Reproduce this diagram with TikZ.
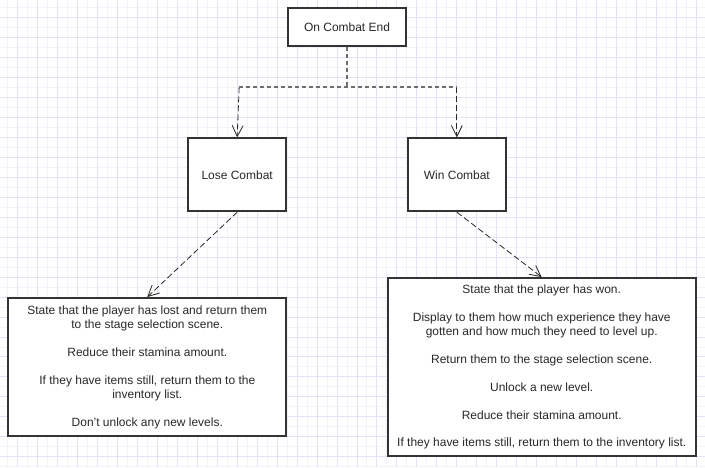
\documentclass[tikz,border=0pt]{standalone}
\usepackage{fontspec}
\setmainfont{Liberation Sans}
\usetikzlibrary{arrows.meta, positioning}

\definecolor{gridmajor}{RGB}{228,226,246}
\definecolor{gridminor}{RGB}{243,242,250}
\definecolor{boxline}{RGB}{51,51,51}
\definecolor{textdark}{RGB}{40,40,40}
\definecolor{branchgray}{RGB}{110,110,110}

\begin{document}
\begin{tikzpicture}[x=1pt, y=-1pt,
            % Define node styles
            event/.style={rectangle, draw=boxline, line width=2pt, fill=white, text=textdark, font=\fontsize{12}{14}\selectfont},
            outcome/.style={event, minimum width=98pt, minimum height=73pt},
            note/.style={event, align=center, inner sep=0pt},
            branch/.style={draw=branchgray, line width=2pt, dash pattern=on 4pt off 3pt},
            arrow/.style={draw=textdark, line width=0.8pt, dash pattern=on 6pt off 3pt, -{Straight Barb[length=11pt, width=11pt]}}
        ]

        % Background grid
        \fill[white] (0,0) rectangle (705,467);
        \foreach \x in {7,27,...,697}
            \draw[gridminor, line width=1pt] (\x,0) -- (\x,467);
        \foreach \y in {7,27,...,467}
            \draw[gridminor, line width=1pt] (0,\y) -- (705,\y);
        \foreach \x in {17,37,...,697}
            \draw[gridmajor, line width=1pt] (\x,0) -- (\x,467);
        \foreach \y in {17,37,...,457}
            \draw[gridmajor, line width=1pt] (0,\y) -- (705,\y);

        % Combat end and its outcomes
        \node[event, minimum width=118pt, minimum height=38pt] (combatend) at (347,27) {On Combat End};
        \node[outcome] (lose) at (237,174.5) {Lose Combat};
        \node[outcome] (win) at (457,174.5) {Win Combat};

        % What happens after each outcome
        \node[note, minimum width=278pt, minimum height=138pt] (losenote) at (147,367) {State that the player has lost and return them\\
            to the stage selection scene.\\[14pt]
            Reduce their stamina amount.\\[14pt]
            If they have items still, return them to the\\
            inventory list.\\[14pt]
            Don{\char"0027}t unlock any new levels.};
        \node[note, minimum width=308pt, minimum height=178pt] (winnote) at (542,367) {State that the player has won.\\[14pt]
            Display to them how much experience they have\\
            gotten and how much they need to level up.\\[14pt]
            Return them to the stage selection scene.\\[14pt]
            Unlock a new level.\\[14pt]
            Reduce their stamina amount.\\[14pt]
            If they have items still, return them to the inventory list.};

        % Branch points
        \coordinate (split) at (347,87);
        \coordinate (losesplit) at (239,87);
        \coordinate (winsplit) at (457,87);

        % Connect components
        \draw[arrow] (losesplit) -- (lose.north);
        \draw[arrow] (winsplit) -- (win.north);
        \draw[branch] (combatend.south) -- (split);
        \draw[branch] (losesplit) -- (winsplit);
        \draw[arrow] (lose.south) -- (losenote.north);
        \draw[arrow] (win.south) -- (winnote.north);

        \end{tikzpicture}
\end{document}
